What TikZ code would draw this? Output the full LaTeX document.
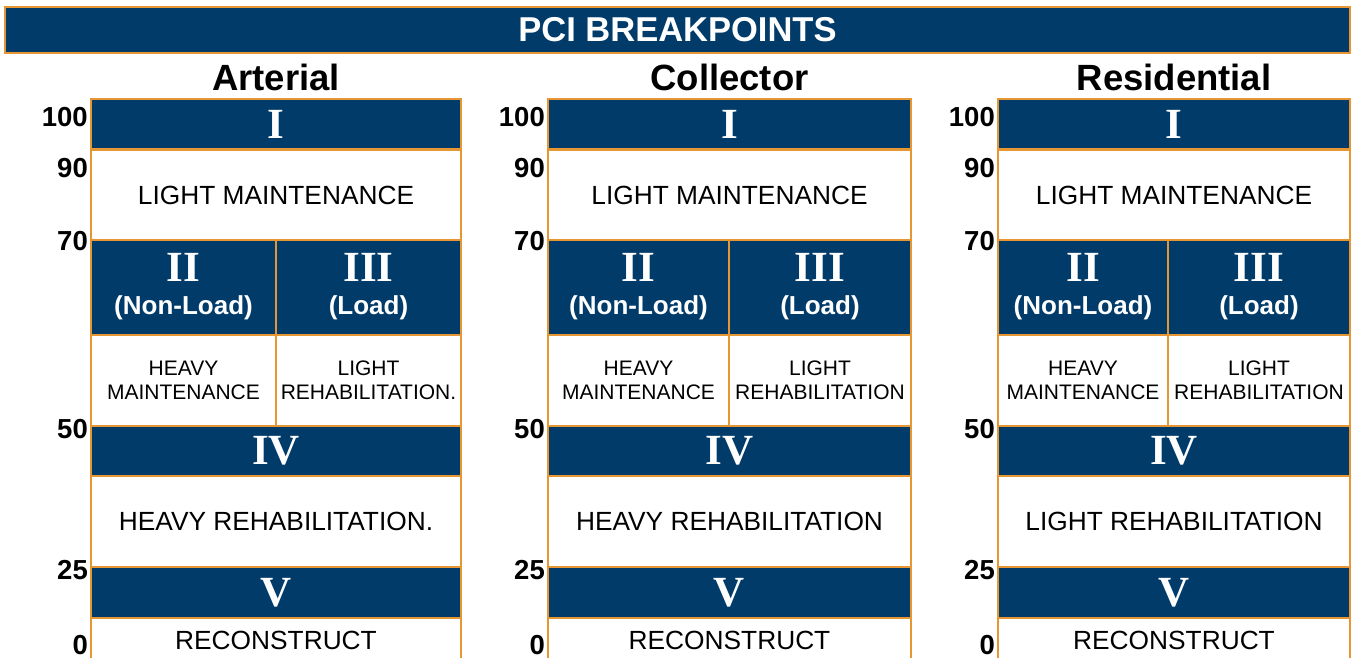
\documentclass[tikz,border=0pt]{standalone}
\usepackage{fontspec}
\setmainfont{Liberation Sans}
\newfontfamily\romfont{Liberation Serif}
\definecolor{navy}{RGB}{0,59,106}
\definecolor{gold}{RGB}{230,150,50}
\tikzset{
 band/.style={draw=gold,line width=2.5pt,fill=navy,inner sep=0pt},
 plain/.style={draw=gold,line width=2.5pt,fill=white,inner sep=0pt},
 roman/.style={text=white,font=\romfont\bfseries\fontsize{43}{43}\selectfont,inner sep=0pt},
 sub/.style={text=white,font=\bfseries\fontsize{26}{28}\selectfont,inner sep=0pt},
 big/.style={font=\fontsize{26.3}{28}\selectfont,inner sep=0pt},
 small/.style={font=\fontsize{21}{24}\selectfont,inner sep=0pt,align=center},
 head/.style={font=\bfseries\fontsize{36.5}{36.5}\selectfont,inner sep=0pt},
 num/.style={font=\bfseries\fontsize{27.5}{27.5}\selectfont,inner sep=0pt,anchor=east},
}
\newcommand\pcicol[7]{%
 \pgfmathsetmacro\xc{(#2+#4)/2}%
 \pgfmathsetmacro\xa{(#2+#3)/2}%
 \pgfmathsetmacro\xb{(#3+#4)/2}%
 \pgfmathsetmacro\wf{#4-#2}%
 \pgfmathsetmacro\wa{#3-#2}%
 \pgfmathsetmacro\wb{#4-#3}%
 \pgfmathsetmacro\xn{#2-3}%
 \node[head] (#1h) at (\xc,77) {#5};
 \node[band,roman,minimum width=\wf pt,minimum height=50pt] (#1r1) at (\xc,124) {I};
 \node[plain,big,minimum width=\wf pt,minimum height=91pt] (#1r2) at (\xc,195) {LIGHT MAINTENANCE};
 \node[band,minimum width=\wa pt,minimum height=95pt] (#1r3a) at (\xa,287.5) {};
 \node[band,minimum width=\wb pt,minimum height=95pt] (#1r3b) at (\xb,287.5) {};
 \node[roman] (#1t3a) at (\xa,267) {II};
 \node[sub] (#1s3a) at (\xa,308) {(Non-Load)};
 \node[roman] (#1t3b) at (\xb,267) {III};
 \node[sub] (#1s3b) at (\xb,308) {(Load)};
 \node[plain,small,minimum width=\wa pt,minimum height=91pt] (#1r4a) at (\xa,380.5) {HEAVY\\MAINTENANCE};
 \node[plain,small,minimum width=\wb pt,minimum height=91pt] (#1r4b) at (\xb,380.5) {#6};
 \node[band,roman,minimum width=\wf pt,minimum height=50pt] (#1r5) at (\xc,451) {IV};
 \node[plain,big,minimum width=\wf pt,minimum height=91pt] (#1r6) at (\xc,521.5) {#7};
 \node[band,roman,minimum width=\wf pt,minimum height=51pt] (#1r7) at (\xc,592.5) {V};
 \node[plain,minimum width=\wf pt,minimum height=52pt] (#1r8) at (\xc,644) {};
 \node[big] (#1t8) at (\xc,640) {RECONSTRUCT};
 \node[num] (#1n100) at (\xn,117) {100};
 \node[num] (#1n90) at (\xn,168) {90};
 \node[num] (#1n70) at (\xn,241) {70};
 \node[num] (#1n50) at (\xn,429) {50};
 \node[num] (#1n25) at (\xn,570) {25};
 \node[num] (#1n0) at (\xn,645) {0};
}
\begin{document}
\begin{tikzpicture}[x=1pt,y=-1pt]
\useasboundingbox (0,0) rectangle (1351,658);
\clip (0,0) rectangle (1351,658);
\fill[white] (0,0) rectangle (1351,658);
\node[band,minimum width=1345pt,minimum height=46pt,text=white,font=\bfseries\fontsize{34.5}{34.5}\selectfont] (title) at (677.5,30) {PCI BREAKPOINTS};
\pcicol{A}{91}{276}{461}{Arterial}{LIGHT\\REHABILITATION.}{HEAVY REHABILITATION.}
\pcicol{C}{548}{729}{911}{Collector}{LIGHT\\REHABILITATION}{HEAVY REHABILITATION}
\pcicol{R}{998}{1168}{1350}{Residential}{LIGHT\\REHABILITATION}{LIGHT REHABILITATION}
\end{tikzpicture}
\end{document}
